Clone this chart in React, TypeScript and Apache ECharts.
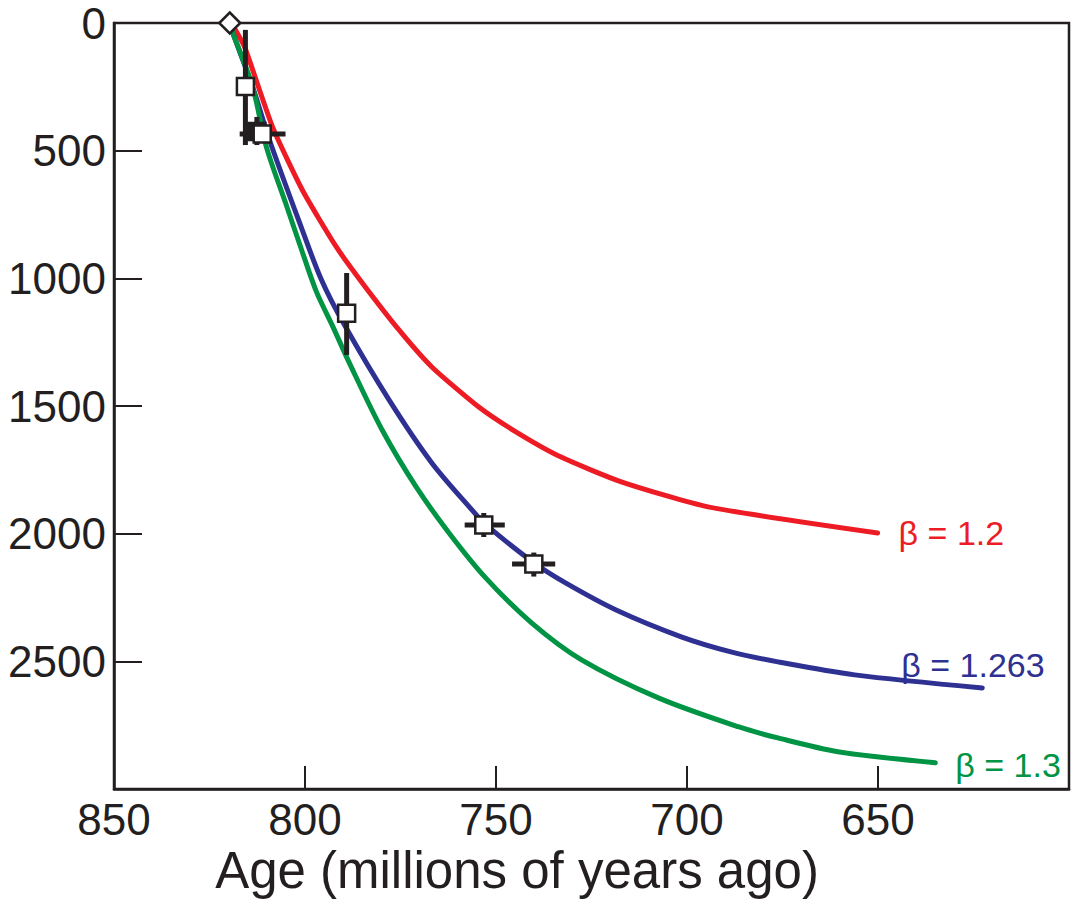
import React, { useEffect, useRef } from "react";
import * as echarts from "echarts";

const ink = "#231f20";
const fontFamily = "'Liberation Sans', Arial, sans-serif";

// beta = 1.2 curve
const redAge = [818.2, 815.8, 808.5, 800.7, 791.8, 785.0, 775.4, 766.8, 754.5, 744.8, 733.1, 717.2, 694.5, 650.1];
const redDepth = [27, 94, 407, 654, 877, 1018, 1202, 1347, 1504, 1601, 1699, 1797, 1895, 1997];

// beta = 1.263 curve
const blueAge = [819.7, 818.9, 813.7, 809.3, 801.5, 795.7, 789.7, 778.0, 766.8, 756.3, 752.9, 740.1, 731.8, 718.7, 701.5, 688.5, 676.2, 656.1, 622.7];
const blueDepth = [0, 39, 251, 458, 779, 1006, 1182, 1476, 1723, 1907, 1962, 2114, 2193, 2298, 2404, 2463, 2502, 2553, 2604];

// beta = 1.3 curve
const greenAge = [819.7, 818.9, 813.7, 810.1, 804.9, 800.7, 797.0, 792.8, 788.4, 779.8, 770.9, 762.3, 752.7, 740.7, 727.6, 707.5, 686.6, 676.2, 660.5, 635.0];
const greenDepth = [0, 39, 251, 486, 713, 897, 1053, 1186, 1331, 1594, 1817, 1997, 2173, 2349, 2494, 2643, 2756, 2800, 2854, 2897];

const curveLabels = ["β = 1.2", "β = 1.263", "β = 1.3"];

// measured points (open squares)
const pointAge = [815.6, 811.2, 789.1, 753.2, 740.1];
const pointDepth = [249, 435, 1137, 1966, 2119];
const ageLow: (number | null)[] = [null, 805.1, null, 747.7, 734.5];
const ageHigh: (number | null)[] = [null, 817.1, null, 758.2, 745.8];
const depthLow: (number | null)[] = [27, null, 979, 1919, 2074];
const depthHigh: (number | null)[] = [478, null, 1300, 2013, 2168];

// overlapping dark point behind the second square
const darkAge = [812.6];
const darkDepth = [425];
const darkDepthLow = [368];
const darkDepthHigh = [478];

// starting point (diamond)
const startAge = [819.7];
const startDepth = [0];

const xTicksHidden = [600];
const yTicksHidden = [3000];

const zip = (a: number[], b: number[]) => a.map((v, i) => [v, b[i]]);

export default function App() {
  const ref = useRef<HTMLDivElement>(null);

  useEffect(() => {
    const chart = echarts.init(ref.current!, null, { renderer: "svg" });

    const errData = pointAge.map((a, i) => [
      a,
      pointDepth[i],
      ageLow[i] ?? a,
      ageHigh[i] ?? a,
      depthLow[i] ?? pointDepth[i],
      depthHigh[i] ?? pointDepth[i],
    ]);
    const darkErr = darkAge.map((a, i) => [a, darkDepth[i], a, a, darkDepthLow[i], darkDepthHigh[i]]);

    const renderErr = (params: any, api: any) => {
      const x = api.value(0);
      const y = api.value(1);
      const x0 = api.value(2);
      const x1 = api.value(3);
      const y0 = api.value(4);
      const y1 = api.value(5);
      const children: any[] = [];
      const style = { stroke: ink, lineWidth: 5 };
      if (x0 !== x1) {
        const a = api.coord([x0, y]);
        const b = api.coord([x1, y]);
        children.push({ type: "line", shape: { x1: a[0], y1: a[1], x2: b[0], y2: b[1] }, style });
      }
      if (y0 !== y1) {
        const a = api.coord([x, y0]);
        const b = api.coord([x, y1]);
        children.push({ type: "line", shape: { x1: a[0], y1: a[1], x2: b[0], y2: b[1] }, style });
      }
      return { type: "group", children };
    };

    const labelStyle = (color: string) => ({
      color,
      fontSize: 34,
      fontFamily,
    });

    chart.setOption({
      animation: false,
      backgroundColor: "#ffffff",
      grid: {
        left: 114,
        right: 2,
        top: 23,
        bottom: 110,
        show: true,
        borderColor: ink,
        borderWidth: 2.5,
      },
      xAxis: {
        type: "value",
        min: 600,
        max: 850,
        interval: 50,
        inverse: true,
        axisLine: { onZero: false, lineStyle: { color: ink, width: 2.5 } },
        axisTick: { inside: true, length: 23, lineStyle: { color: ink, width: 2 } },
        splitLine: { show: false },
        axisLabel: {
          formatter: (v: number) => (xTicksHidden.includes(v) ? "" : String(v)),
          color: ink,
          fontSize: 44,
          fontFamily,
          margin: 8,
        },
      },
      yAxis: {
        type: "value",
        min: 0,
        max: 3000,
        interval: 500,
        inverse: true,
        axisLine: { onZero: false, lineStyle: { color: ink, width: 2.5 } },
        axisTick: { inside: true, length: 28, lineStyle: { color: ink, width: 2 } },
        splitLine: { show: false },
        axisLabel: {
          formatter: (v: number) => (yTicksHidden.includes(v) ? "" : String(v)),
          color: ink,
          fontSize: 44,
          fontFamily,
          margin: 8,
        },
      },
      graphic: [
        {
          type: "text",
          x: 517,
          y: 870,
          style: {
            text: "Age (millions of years ago)",
            fill: ink,
            font: `51px ${fontFamily}`,
            textAlign: "center",
            textVerticalAlign: "middle",
          },
        },
      ],
      series: [
        {
          type: "line",
          name: curveLabels[0],
          data: zip(redAge, redDepth),
          showSymbol: false,
          symbol: "none",
          smooth: 0.2,
          z: 2,
          lineStyle: { color: "#ed1c24", width: 5, cap: "round" },
          endLabel: {
            show: true,
            formatter: curveLabels[0],
            align: "left",
            verticalAlign: "middle",
            distance: 0,
            offset: [21, 0],
            ...labelStyle("#ed1c24"),
          },
        },
        {
          type: "line",
          name: curveLabels[1],
          data: zip(blueAge, blueDepth),
          showSymbol: false,
          symbol: "none",
          smooth: 0.3,
          z: 2,
          lineStyle: { color: "#2e3192", width: 5, cap: "round" },
          endLabel: {
            show: true,
            formatter: curveLabels[1],
            align: "left",
            verticalAlign: "middle",
            distance: 0,
            offset: [-81, -23],
            ...labelStyle("#2e3192"),
          },
        },
        {
          type: "line",
          name: curveLabels[2],
          data: zip(greenAge, greenDepth),
          showSymbol: false,
          symbol: "none",
          smooth: 0.3,
          z: 2,
          lineStyle: { color: "#009444", width: 5, cap: "round" },
          endLabel: {
            show: true,
            formatter: curveLabels[2],
            align: "left",
            verticalAlign: "middle",
            distance: 0,
            offset: [20, 2],
            ...labelStyle("#009444"),
          },
        },
        {
          type: "custom",
          name: "darkErr",
          renderItem: renderErr,
          data: darkErr,
          encode: { x: 0, y: 1 },
          z: 3,
        },
        {
          type: "scatter",
          name: "dark",
          data: zip(darkAge, darkDepth),
          symbol: "rect",
          symbolSize: 17,
          z: 4,
          itemStyle: { color: ink, borderColor: ink, borderWidth: 2.5, opacity: 1 },
        },
        {
          type: "custom",
          name: "errors",
          renderItem: renderErr,
          data: errData,
          encode: { x: 0, y: 1 },
          z: 5,
        },
        {
          type: "scatter",
          name: "points",
          data: zip(pointAge, pointDepth),
          symbol: "rect",
          symbolSize: 17,
          z: 6,
          itemStyle: { color: "#ffffff", borderColor: ink, borderWidth: 2.5, opacity: 1 },
        },
        {
          type: "scatter",
          name: "start",
          data: zip(startAge, startDepth),
          symbol: "diamond",
          symbolSize: [21, 21],
          z: 7,
          itemStyle: { color: "#ffffff", borderColor: ink, borderWidth: 2.5, opacity: 1 },
        },
      ],
    });

    return () => chart.dispose();
  }, []);

  return (
    <div
      ref={ref}
      style={{ position: "absolute", left: 0, top: 0, width: 1072, height: 899 }}
    />
  );
}
